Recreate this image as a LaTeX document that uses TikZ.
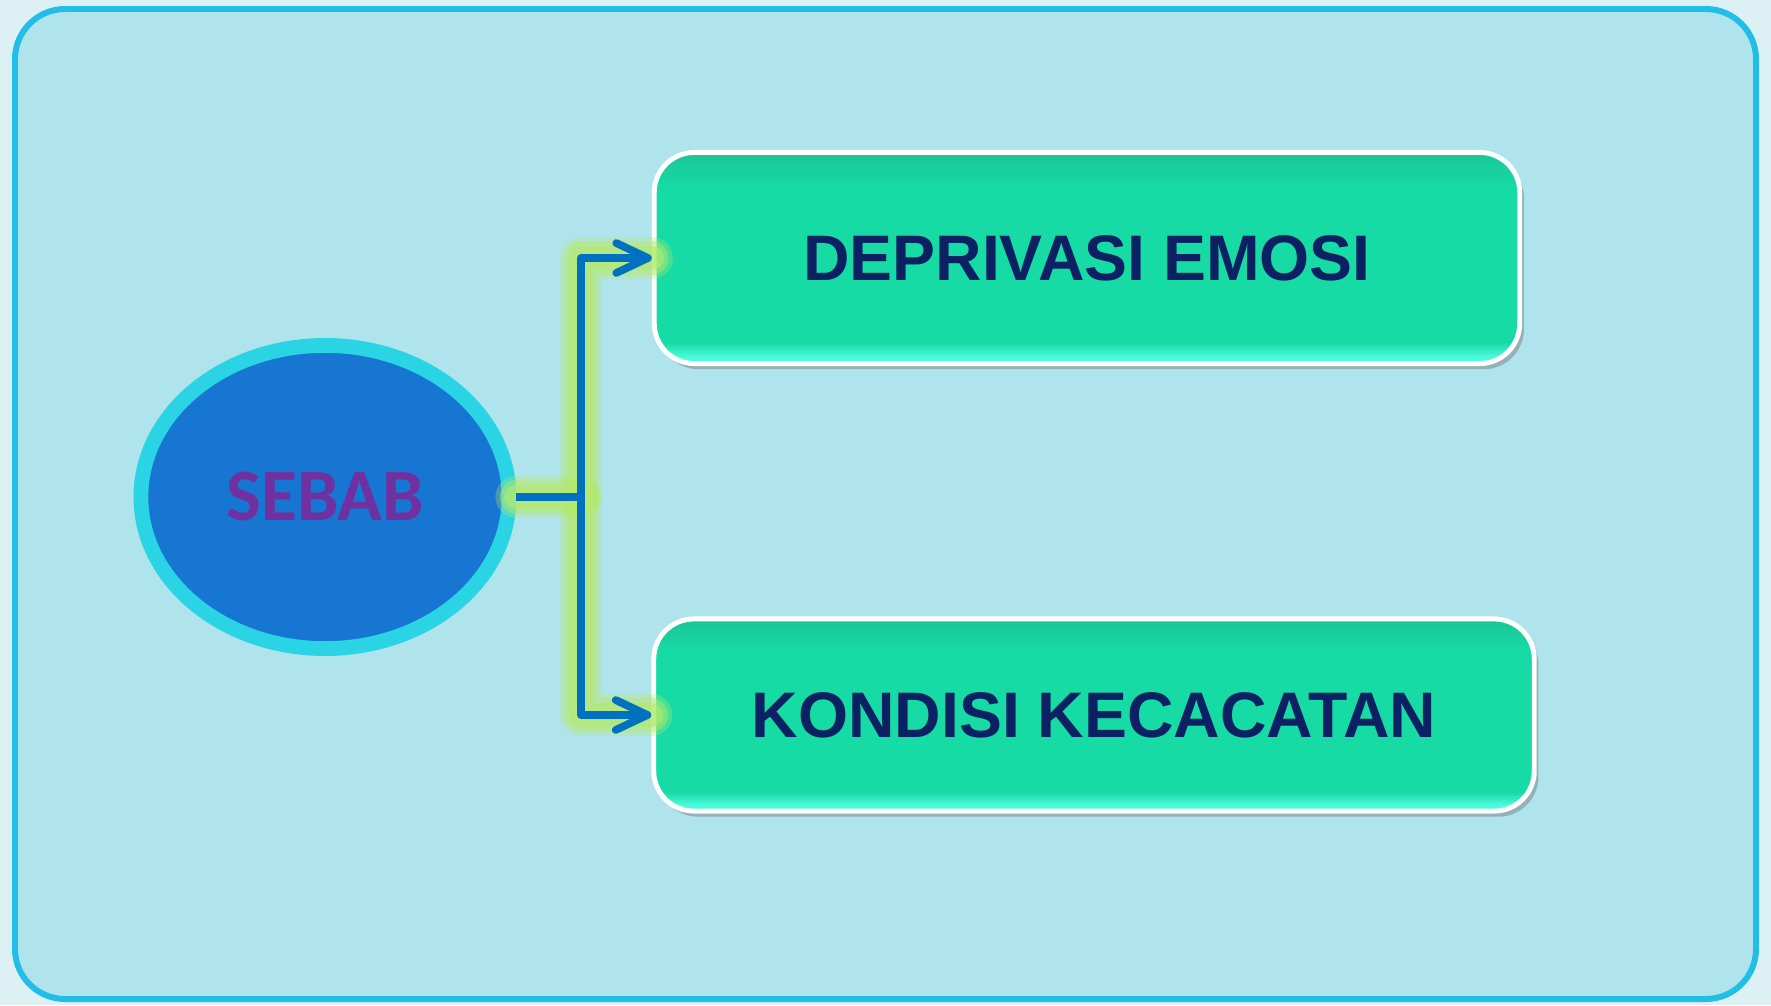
\documentclass[tikz,border=0pt]{standalone}
\usepackage{fontspec}
\usetikzlibrary{arrows.meta,shapes.geometric,shadows}
\newfontfamily\sebabfont{Carlito}
\newfontfamily\boxfont{Liberation Sans}
\definecolor{bgpale}{HTML}{DDF1F5}
\definecolor{framefill}{HTML}{B0E4EC}
\definecolor{frameline}{HTML}{22BEE8}
\definecolor{ringcyan}{HTML}{2AD4E4}
\definecolor{ovalblue}{HTML}{1676D2}
\definecolor{sebabpurple}{HTML}{7030A0}
\definecolor{linkblue}{HTML}{0070C0}
\definecolor{glowgreen}{HTML}{B4EA6E}
\definecolor{boxtop}{HTML}{1BC497}
\definecolor{boxmid}{HTML}{17DBA4}
\definecolor{boxbottom}{HTML}{4CFCDC}
\definecolor{textnavy}{HTML}{0B2164}
\pgfdeclareverticalshading{boxshade}{100bp}{color(0bp)=(boxbottom); color(26.5bp)=(boxbottom);
    color(30bp)=(boxmid); color(67bp)=(boxmid); color(75bp)=(boxtop); color(100bp)=(boxtop)}

\begin{document}
\begin{tikzpicture}[x=0.01cm,y=-0.01cm,
        oval/.style={ellipse,draw=ringcyan,line width=4.2pt,fill=ovalblue,inner sep=0pt,
            minimum width=3.68cm,minimum height=3.03cm,
            drop shadow={shadow xshift=1pt,shadow yshift=-1.5pt,fill=black!60,opacity=.45},
            font=\sebabfont\bfseries\fontsize{21}{21}\selectfont,text=sebabpurple},
        causebox/.style={rounded corners=0.4cm,draw=white,line width=1.4pt,shading=boxshade,
            drop shadow={shadow xshift=1.2pt,shadow yshift=-1.6pt,fill=black!55,opacity=.45},
            font=\boxfont\bfseries\fontsize{18.3}{18.3}\selectfont,text=textnavy},
        glow/.style={glowgreen,line cap=round,line join=round},
        link/.style={line width=2.2pt,linkblue,line join=round}]
            \useasboundingbox (0,0) rectangle (1771,1005);
            \fill[bgpale] (0,0) rectangle (1771,1005);
            \draw[frameline,fill=framefill,line width=1.7pt,rounded corners=0.5cm] (15,9) rectangle (1756,999);

            \node[oval] (sebab) at (325,497) {SEBAB};
            \node[causebox,minimum width=8.65cm,minimum height=2.11cm] (emosi) at (1087,258) {DEPRIVASI EMOSI};
            \node[causebox,minimum width=8.80cm,minimum height=1.92cm] (cacat) at (1094,715) {KONDISI KECACATAN};
            \coordinate (split) at (581,497);

            % soft glow under the connectors
            \foreach \w/\o in {12/.3,9.5/.45,7/.6}{
                \draw[glow,line width=\w pt,opacity=\o] (sebab.east) -- (split);
                \draw[glow,line width=\w pt,opacity=\o] (split) |- (emosi.west);
                \draw[glow,line width=\w pt,opacity=\o] (split) |- (cacat.west);
            }
            \draw[link] (sebab.east) -- (split);
            \draw[link,-{Straight Barb[length=9pt,width=8.5pt,round]}] (split) |- (emosi.west);
            \draw[link,-{Straight Barb[length=9pt,width=8.5pt,round]}] (split) |- (cacat.west);
        \end{tikzpicture}
\end{document}
